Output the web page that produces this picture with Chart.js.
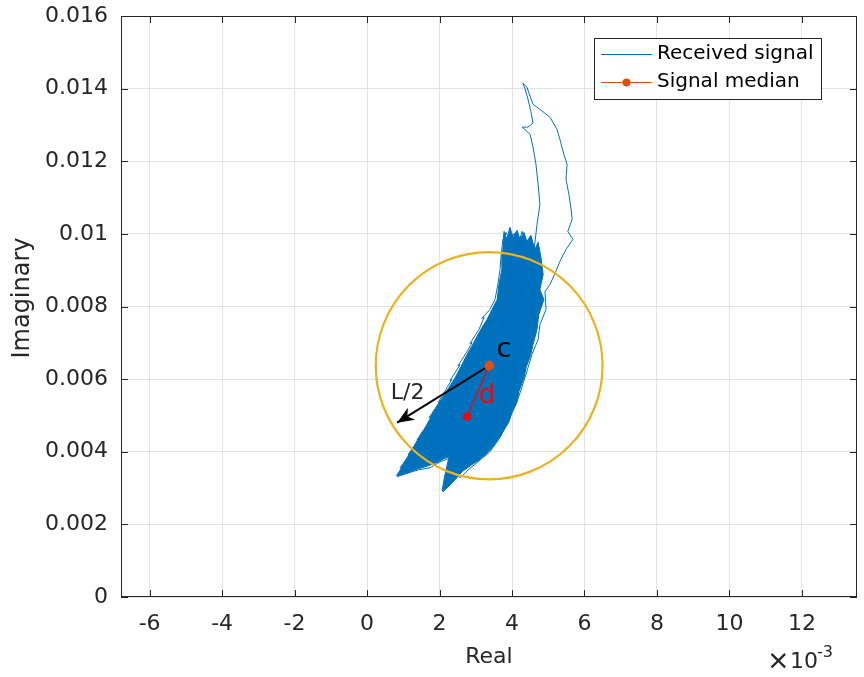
<!DOCTYPE html>
<html>
<head>
<meta charset="utf-8">
<script src="https://cdn.jsdelivr.net/npm/chart.js@4"></script>
<style>
  html, body { margin: 0; padding: 0; background: #fff; }
  canvas { display: block; }
</style>
</head>
<body>
<canvas id="iqChart" width="864" height="677"></canvas>
<script>
// all values in units of 1e-3 (as the x axis shows)
const UNIT = 1e-3;

// received signal trace (edges + tail)
const signalRe = [0.80, 1.05, 0.91, 1.24, 1.13, 1.46, 1.38, 1.68, 1.79, 1.71, 2.01, 1.96, 2.21, 2.34, 2.29,
  2.57, 2.51, 2.79, 2.90, 2.84, 3.09, 3.23, 3.17, 3.39, 3.53, 3.61, 3.67, 3.70, 3.75, 3.83,
  3.94, 4.06, 4.17, 4.28, 4.39, 4.52, 4.61, 4.69, 4.77, 4.72, 4.66, 4.58, 4.50, 4.28, 4.44,
  4.58, 4.52, 4.44, 4.36, 4.30, 4.41, 4.50, 4.58, 4.77, 5.05, 5.24, 5.32, 5.43, 5.52, 5.49,
  5.57, 5.63, 5.66, 5.54, 5.68, 5.49, 5.32, 5.21, 5.05, 4.91, 4.94, 4.77, 4.72, 4.55, 4.41,
  4.25, 4.11, 3.89, 3.67, 3.39, 3.06, 2.79, 2.57, 2.43, 2.29, 2.10, 2.18, 2.29, 2.01, 1.74,
  1.41, 1.05, 0.83];
const signalIm = [3.34, 3.64, 3.56, 4.00, 3.92, 4.39, 4.33, 4.74, 4.99, 4.94, 5.38, 5.35, 5.77, 5.99, 5.96,
  6.40, 6.37, 6.81, 7.01, 6.98, 7.37, 7.70, 7.67, 7.92, 8.19, 8.61, 9.02, 9.43, 9.85, 10.04,
  9.85, 10.01, 9.71, 10.07, 9.68, 9.90, 9.57, 10.26, 10.81, 11.37, 11.92, 12.39, 12.74, 12.94, 12.94,
  13.05, 13.38, 13.71, 13.99, 14.15, 14.04, 13.79, 13.57, 13.43, 13.21, 12.88, 12.61, 12.19, 11.92, 11.50,
  11.09, 10.68, 10.40, 10.07, 9.85, 9.57, 9.24, 8.97, 8.61, 8.41, 7.92, 7.50, 7.09, 6.68, 6.21,
  5.71, 5.30, 4.83, 4.39, 4.00, 3.72, 3.50, 3.28, 3.45, 3.09, 2.90, 3.37, 3.83, 3.72, 3.56,
  3.50, 3.39, 3.31];

// outline of the dense part of the signal cloud
const cloudRe = [3.75, 3.78, 3.86, 3.94, 4.03, 4.14, 4.22, 4.33, 4.41, 4.52,
  4.63, 4.72, 4.80, 4.86, 4.77, 4.88, 4.74, 4.69, 4.58, 4.52,
  4.39, 4.33, 4.19, 4.14, 4.00, 3.92, 3.75, 3.61, 3.45, 3.26,
  3.06, 2.84, 2.62, 2.43, 2.23, 2.07, 2.15, 2.26, 2.12, 1.96,
  1.68, 1.41, 1.13, 0.83, 0.97, 1.10, 1.24, 1.38, 1.49, 1.60,
  1.74, 1.82, 1.96, 2.10, 2.26, 2.43, 2.59, 2.76, 2.90, 3.03,
  3.17, 3.31, 3.45, 3.59, 3.64, 3.72, 3.72];
const cloudIm = [9.71, 10.07, 9.85, 10.18, 9.91, 10.10, 9.85, 10.04, 9.79, 9.96,
  9.57, 9.77, 9.35, 8.88, 8.47, 8.19, 7.78, 7.37, 6.95, 6.68,
  6.32, 6.04, 5.66, 5.38, 5.10, 4.83, 4.55, 4.33, 4.11, 3.92,
  3.75, 3.61, 3.45, 3.23, 3.03, 2.92, 3.37, 3.86, 3.81, 3.72,
  3.61, 3.53, 3.42, 3.34, 3.61, 3.83, 4.06, 4.30, 4.50, 4.66,
  4.91, 5.08, 5.30, 5.52, 5.77, 6.04, 6.34, 6.68, 6.92, 7.17,
  7.42, 7.64, 7.92, 8.19, 8.61, 9.02, 9.43];

const medianRe = [3.37];
const medianIm = [6.37];
const dRe = [2.76, 3.37];
const dIm = [4.97, 6.37];
const arrowRe = [3.37, 0.83];
const arrowIm = [6.37, 4.80];
const circleRadius = 3.13;

const xTicks = [-6, -4, -2, 0, 2, 4, 6, 8, 10, 12];
const xTickLabels = ['-6', '-4', '-2', '0', '2', '4', '6', '8', '10', '12'];
const yTicks = [0, 2, 4, 6, 8, 10, 12, 14, 16];
const yTickLabels = ['0', '0.002', '0.004', '0.006', '0.008', '0.01', '0.012', '0.014', '0.016'];

const toPts = (re, im) => re.map((v, i) => ({ x: v * UNIT, y: im[i] * UNIT }));

const FONT = 'DejaVu Sans';
const TXT = '#262626';
const BLUE = '#0072BD';
const ORANGE = '#D95319';

const overlay = {
    id: 'overlay',
    afterDatasetDraw(chart, args) {
        const ctx = chart.ctx;
        const xs = chart.scales.x, ys = chart.scales.y;
        if (args.index === 3) {
            // circle of radius L/2 around the median
            const cx = xs.getPixelForValue(medianRe[0] * UNIT);
            const cy = ys.getPixelForValue(medianIm[0] * UNIT);
            const rx = xs.getPixelForValue((medianRe[0] + circleRadius) * UNIT) - cx;
            const ry = cy - ys.getPixelForValue((medianIm[0] + circleRadius) * UNIT);
            ctx.save();
            ctx.beginPath();
            ctx.ellipse(cx, cy, rx, ry, 0, 0, Math.PI * 2);
            ctx.strokeStyle = '#EDB120';
            ctx.lineWidth = 2.2;
            ctx.stroke();
            ctx.restore();
        }
        if (args.index === 1) {
            const x0 = xs.getPixelForValue(arrowRe[0] * UNIT), y0 = ys.getPixelForValue(arrowIm[0] * UNIT);
            const x1 = xs.getPixelForValue(arrowRe[1] * UNIT), y1 = ys.getPixelForValue(arrowIm[1] * UNIT);
            const ang = Math.atan2(y1 - y0, x1 - x0);
            ctx.save();
            ctx.translate(x1, y1);
            ctx.rotate(ang);
            ctx.beginPath();
            ctx.moveTo(0, 0);
            ctx.lineTo(-17, -7);
            ctx.lineTo(-12, 0);
            ctx.lineTo(-17, 7);
            ctx.closePath();
            ctx.fillStyle = '#000';
            ctx.fill();
            ctx.restore();
        }
    },
    afterDatasetsDraw(chart) {
        const ctx = chart.ctx;
        const xs = chart.scales.x, ys = chart.scales.y;
        const px = v => xs.getPixelForValue(v * UNIT);
        const py = v => ys.getPixelForValue(v * UNIT);
        ctx.save();
        ctx.textAlign = 'center';
        ctx.textBaseline = 'middle';
        ctx.fillStyle = '#000';
        ctx.font = '27px ' + FONT;
        ctx.fillText('c', px(3.78), py(6.80));
        ctx.fillStyle = '#ff0000';
        ctx.font = '26px ' + FONT;
        ctx.fillText('d', px(3.31), py(5.53));
        ctx.fillStyle = '#262626';
        ctx.font = '22px ' + FONT;
        ctx.fillText('L/2', px(1.12), py(5.62));
        ctx.restore();
    },
    afterDraw(chart) {
        const ctx = chart.ctx;
        const a = chart.chartArea;
        const xs = chart.scales.x, ys = chart.scales.y;
        ctx.save();
        // box + inward tick marks
        ctx.strokeStyle = TXT;
        ctx.lineWidth = 1;
        ctx.strokeRect(Math.round(a.left) + 0.5, Math.round(a.top) + 0.5,
            Math.round(a.right - a.left) - 1, Math.round(a.bottom - a.top) - 1);
        ctx.beginPath();
        xTicks.forEach(t => {
            const x = Math.round(xs.getPixelForValue(t * UNIT)) + 0.5;
            ctx.moveTo(x, a.bottom); ctx.lineTo(x, a.bottom - 7);
            ctx.moveTo(x, a.top); ctx.lineTo(x, a.top + 7);
        });
        yTicks.forEach(t => {
            const y = Math.round(ys.getPixelForValue(t * UNIT)) + 0.5;
            ctx.moveTo(a.left, y); ctx.lineTo(a.left + 7, y);
            ctx.moveTo(a.right, y); ctx.lineTo(a.right - 7, y);
        });
        ctx.stroke();

        // axis titles
        ctx.fillStyle = TXT;
        ctx.font = '22px ' + FONT;
        ctx.textAlign = 'center';
        ctx.textBaseline = 'middle';
        ctx.fillText('Real', (a.left + a.right) / 2, 657);
        ctx.save();
        ctx.translate(23, 298);
        ctx.rotate(-Math.PI / 2);
        ctx.font = '24px ' + FONT;
        ctx.fillText('Imaginary', 0, 0);
        ctx.restore();
        ctx.textAlign = 'left';
        ctx.textBaseline = 'alphabetic';
        ctx.font = '27px ' + FONT;
        ctx.fillText('\u00d7', 767, 669);
        ctx.font = '22px ' + FONT;
        ctx.fillText('10', 790, 668);
        ctx.font = '16px ' + FONT;
        ctx.fillText('-3', 817, 657);

        // legend
        const lx = 594.5, ly = 38.5, lw = 227, lh = 61;
        ctx.fillStyle = '#fff';
        ctx.fillRect(lx, ly, lw, lh);
        ctx.strokeStyle = TXT;
        ctx.strokeRect(lx, ly, lw, lh);
        ctx.lineWidth = 1;
        ctx.strokeStyle = BLUE;
        ctx.beginPath(); ctx.moveTo(601, 54.5); ctx.lineTo(652, 54.5); ctx.stroke();
        ctx.strokeStyle = ORANGE;
        ctx.beginPath(); ctx.moveTo(601, 82.5); ctx.lineTo(652, 82.5); ctx.stroke();
        ctx.fillStyle = ORANGE;
        ctx.beginPath(); ctx.arc(626.5, 82.5, 4, 0, Math.PI * 2); ctx.fill();
        ctx.fillStyle = '#000';
        ctx.font = '20px ' + FONT;
        ctx.textBaseline = 'middle';
        ctx.fillText('Received signal', 657, 54);
        ctx.fillText('Signal median', 657, 82);
        ctx.restore();
    }
};

const iq = document.getElementById('iqChart');

new Chart(iq, {
    type: 'scatter',
    data: {
        datasets: [{
            label: 'median',
            data: toPts(medianRe, medianIm),
            pointRadius: 4.5,
            pointBackgroundColor: ORANGE,
            pointBorderColor: ORANGE
        }, {
            label: 'arrow',
            data: toPts(arrowRe, arrowIm),
            showLine: true,
            borderColor: '#000',
            borderWidth: 2,
            pointRadius: 0
        }, {
            label: 'd',
            data: toPts(dRe, dIm),
            showLine: true,
            borderColor: '#ff0000',
            borderWidth: 1.3,
            pointRadius: [3.5, 0],
            pointBackgroundColor: '#ff0000',
            pointBorderColor: '#ff0000'
        }, {
            label: 'Received signal',
            data: toPts(signalRe, signalIm),
            showLine: true,
            borderColor: BLUE,
            borderWidth: 1,
            pointRadius: 0,
            tension: 0
        }, {
            label: 'cloud',
            data: toPts(cloudRe, cloudIm),
            showLine: true,
            fill: 'shape',
            backgroundColor: BLUE,
            borderColor: BLUE,
            borderWidth: 1,
            pointRadius: 0
        }]
    },
    options: {
        responsive: false,
        animation: false,
        devicePixelRatio: 1,
        layout: { padding: { left: 0, top: 16, right: 7, bottom: 0 } },
        plugins: {
            legend: { display: false },
            tooltip: { enabled: false }
        },
        scales: {
            x: {
                type: 'linear',
                bounds: 'data',
                min: -6.79 * UNIT,
                max: 13.52 * UNIT,
                afterBuildTicks: s => { s.ticks = xTicks.map(v => ({ value: v * UNIT })); },
                afterFit: s => { s.height = 80; s.paddingLeft = 0; s.paddingRight = 0; },
                border: { display: false },
                grid: { color: '#e3e3e3', drawTicks: false },
                ticks: {
                    padding: 14,
                    color: TXT,
                    font: { family: FONT, size: 22 },
                    maxRotation: 0,
                    autoSkip: false,
                    callback: (v, i) => xTickLabels[i]
                }
            },
            y: {
                type: 'linear',
                bounds: 'data',
                min: 0,
                max: 16 * UNIT,
                afterBuildTicks: s => { s.ticks = yTicks.map(v => ({ value: v * UNIT })); },
                afterFit: s => { s.width = 121; s.paddingTop = 0; s.paddingBottom = 0; },
                border: { display: false },
                grid: { color: '#e3e3e3', drawTicks: false },
                ticks: {
                    padding: 13,
                    color: TXT,
                    font: { family: FONT, size: 22 },
                    autoSkip: false,
                    callback: (v, i) => yTickLabels[i]
                }
            }
        }
    },
    plugins: [overlay]
});
</script>
</body>
</html>
